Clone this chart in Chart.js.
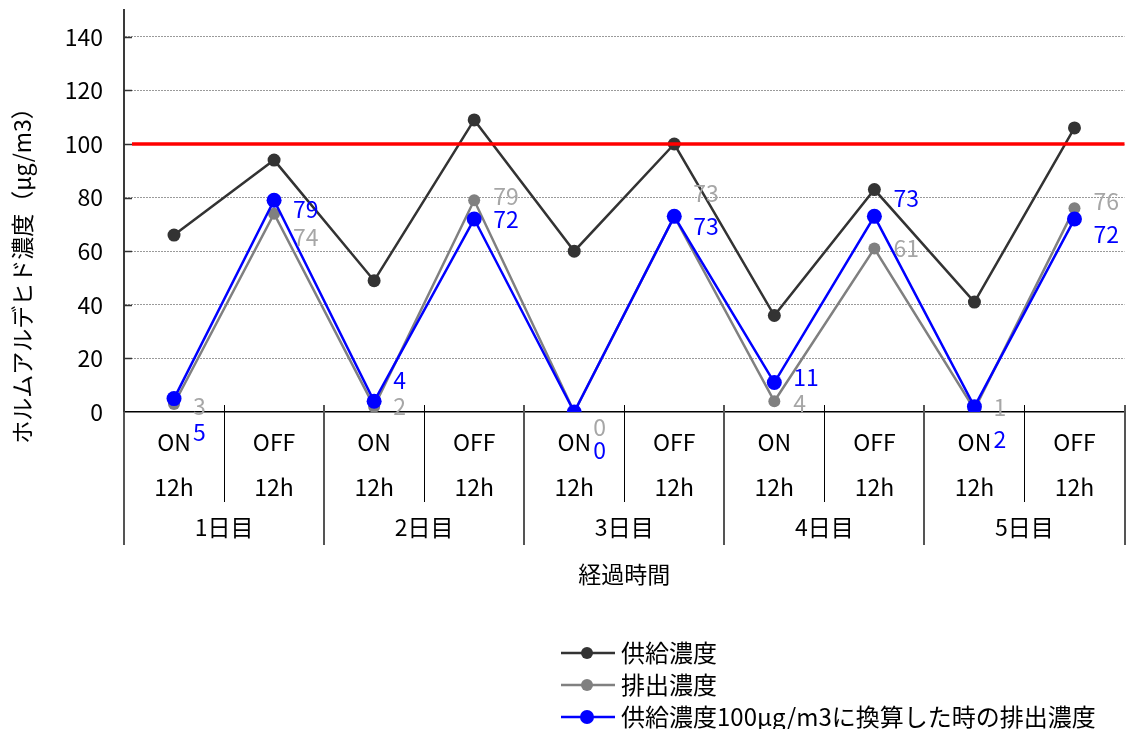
<!DOCTYPE html>
<html lang="ja">
<head>
<meta charset="utf-8">
<title>ホルムアルデヒド濃度の推移</title>
<script src="https://cdn.jsdelivr.net/npm/chart.js@4/dist/chart.umd.min.js"></script>
<style>
  html, body { margin: 0; padding: 0; background: #ffffff; overflow: hidden; }
  #wrap { position: relative; width: 1132px; height: 729px; }
</style>
</head>
<body>
<div id="wrap"><canvas id="chart" width="1132" height="729"></canvas></div>
<script>
// 運転状態（12時間ごとの ON / OFF）
const phases = ['ON', 'OFF', 'ON', 'OFF', 'ON', 'OFF', 'ON', 'OFF', 'ON', 'OFF'];
const hours = ['12h', '12h', '12h', '12h', '12h', '12h', '12h', '12h', '12h', '12h'];
const days = ['1日目', '2日目', '3日目', '4日目', '5日目'];

// 濃度（μg/m3）
const supply = [66, 94, 49, 109, 60, 100, 36, 83, 41, 106];
const exhaust = [3, 74, 2, 79, 0, 73, 4, 61, 1, 76];
const converted = [5, 79, 4, 72, 0, 73, 11, 73, 2, 72];

// 基準値（赤線）
const limitLevel = 100;

// 縦軸の目盛
const yTicks = [0, 20, 40, 60, 80, 100, 120, 140];
const yMax = 150;

const FONT = '"Noto Sans CJK JP", "Noto Sans", sans-serif';

// 軸・区切り線・表題・値ラベル・凡例の描画
const decor = {
  id: 'decor',
  afterDatasetsDraw(chart, args, opts) {
    const { ctx, chartArea: a, scales: { y } } = chart;
    // 基準線
    const ly = y.getPixelForValue(limitLevel);
    ctx.save();
    ctx.strokeStyle = '#ff0000';
    ctx.lineWidth = 3.5;
    ctx.beginPath();
    ctx.moveTo(a.left + 8, ly);
    ctx.lineTo(a.right, ly);
    ctx.stroke();
    ctx.restore();
  },
  afterDraw(chart, args, opts) {
    const { ctx, chartArea: a, scales: { x, y } } = chart;
    ctx.save();

    // 内向きの目盛線
    ctx.strokeStyle = '#333333';
    ctx.lineWidth = 1.5;
    yTicks.forEach(v => {
      if (v === 0) return;
      const py = Math.round(y.getPixelForValue(v)) + 0.5;
      ctx.beginPath();
      ctx.moveTo(a.left, py);
      ctx.lineTo(a.left + 8, py);
      ctx.stroke();
    });

    // 区分の境界線
    const n = phases.length;
    const edge = k => {
      if (k === 0) return a.left;
      if (k === n) return a.right;
      return (x.getPixelForValue(k - 1) + x.getPixelForValue(k)) / 2;
    };
    for (let k = 0; k <= n; k++) {
      const px = edge(k);
      const isDay = k % 2 === 0;
      ctx.beginPath();
      if (isDay) {
        ctx.strokeStyle = '#555555';
        ctx.lineWidth = 2;
        ctx.moveTo(Math.round(px), k === 0 ? a.bottom : a.bottom - 7);
        ctx.lineTo(Math.round(px), a.bottom + 133);
      } else {
        ctx.strokeStyle = '#000000';
        ctx.lineWidth = 1;
        ctx.moveTo(Math.round(px) + 0.5, a.bottom - 7);
        ctx.lineTo(Math.round(px) + 0.5, a.bottom + 90);
      }
      ctx.stroke();
    }

    // 日付の区分ラベル
    ctx.fillStyle = '#000000';
    ctx.font = '23px ' + FONT;
    ctx.textAlign = 'center';
    ctx.textBaseline = 'middle';
    days.forEach((d, i) => {
      const cx = (edge(2 * i) + edge(2 * i + 2)) / 2;
      ctx.fillText(d, cx, a.bottom + 115);
    });

    // 軸の表題
    ctx.fillText('経過時間', (a.left + a.right) / 2, a.bottom + 162);
    ctx.save();
    ctx.translate(22, 270);
    ctx.rotate(-Math.PI / 2);
    ctx.font = '23px ' + FONT;
    ctx.fillText('ホルムアルデヒド濃度（μg/m3）', 0, 0);
    ctx.restore();

    // 値ラベル
    ctx.font = '23px ' + FONT;
    ctx.textAlign = 'left';
    ctx.textBaseline = 'middle';
    opts.valueLabels.forEach(spec => {
      const meta = chart.getDatasetMeta(spec.dataset);
      const values = chart.data.datasets[spec.dataset].data;
      ctx.fillStyle = spec.color;
      meta.data.forEach((pt, i) => {
        ctx.fillText(String(values[i]), pt.x + 19, pt.y + spec.dy[i]);
      });
    });

    // 凡例
    ctx.font = '24px ' + FONT;
    chart.data.datasets.forEach((ds, i) => {
      const ry = opts.legend.top + i * opts.legend.gap;
      const lx = opts.legend.left;
      ctx.strokeStyle = ds.borderColor;
      ctx.lineWidth = 2.5;
      ctx.beginPath();
      ctx.moveTo(lx, ry);
      ctx.lineTo(lx + 54, ry);
      ctx.stroke();
      ctx.fillStyle = ds.backgroundColor;
      ctx.beginPath();
      ctx.arc(lx + 26, ry, i === 2 ? 7 : 6, 0, Math.PI * 2);
      ctx.fill();
      ctx.fillStyle = '#000000';
      ctx.fillText(ds.label, lx + 60, ry);
    });

    ctx.restore();
  }
};

new Chart(document.getElementById('chart'), {
  type: 'line',
  data: {
    labels: phases.map((p, i) => [p, hours[i]]),
    datasets: [
      {
        label: '供給濃度',
        data: supply,
        borderColor: '#333333',
        backgroundColor: '#333333',
        borderWidth: 2.5,
        pointRadius: 6.5,
        pointHoverRadius: 6.5,
        pointBorderWidth: 0,
        tension: 0,
        order: 3
      },
      {
        label: '排出濃度',
        data: exhaust,
        borderColor: '#808080',
        backgroundColor: '#808080',
        borderWidth: 2.5,
        pointRadius: 6,
        pointHoverRadius: 6,
        pointBorderWidth: 0,
        tension: 0,
        order: 2
      },
      {
        label: '供給濃度100μg/m3に換算した時の排出濃度',
        data: converted,
        borderColor: '#0000ff',
        backgroundColor: '#0000ff',
        borderWidth: 2.5,
        pointRadius: 7.5,
        pointHoverRadius: 7.5,
        pointBorderWidth: 0,
        tension: 0,
        order: 1
      }
    ]
  },
  options: {
    responsive: false,
    devicePixelRatio: 1,
    animation: false,
    layout: { padding: { top: 10, left: 0, right: 0, bottom: 0 } },
    events: [],
    scales: {
      x: {
        type: 'category',
        offset: true,
        grid: { display: true, drawOnChartArea: false, drawTicks: false, color: 'rgba(0,0,0,0)' },
        border: { display: true, color: '#000000', width: 1.5 },
        ticks: {
          color: '#000000',
          font: { family: FONT, size: 23, lineHeight: '45px' },
          padding: 7.5,
          maxRotation: 0,
          autoSkip: false
        },
        afterFit(scale) {
          scale.height = 317;
          scale.paddingLeft = 0;
          scale.paddingRight = 0;
        }
      },
      y: {
        min: 0,
        max: yMax,
        ticks: {
          stepSize: 20,
          color: '#000000',
          font: { family: FONT, size: 23 },
          padding: 21
        },
        afterBuildTicks(scale) {
          scale.ticks = yTicks.map(v => ({ value: v }));
        },
        grid: {
          drawTicks: false,
          lineWidth: 1,
          color: c => (c.tick && c.tick.value === 0) ? 'rgba(0,0,0,0)' : '#9a9a9a'
        },
        border: { display: true, color: '#3a3a3a', width: 2, dash: [2, 1] },
        afterFit(scale) {
          scale.width = 124;
          scale.paddingTop = 0;
          scale.paddingBottom = 0;
        }
      }
    },
    plugins: {
      legend: { display: false },
      tooltip: { enabled: false },
      decor: {
        valueLabels: [
          { dataset: 1, color: '#a6a6a6', dy: [2, 24, 0, -4, 15, -23, 2, 0, -2, -7] },
          { dataset: 2, color: '#0000ff', dy: [34, 9, -21, 0, 38, 10, -5, -18, 33, 15] }
        ],
        legend: { left: 561, top: 653, gap: 32 }
      }
    }
  },
  plugins: [decor]
});
</script>
</body>
</html>
